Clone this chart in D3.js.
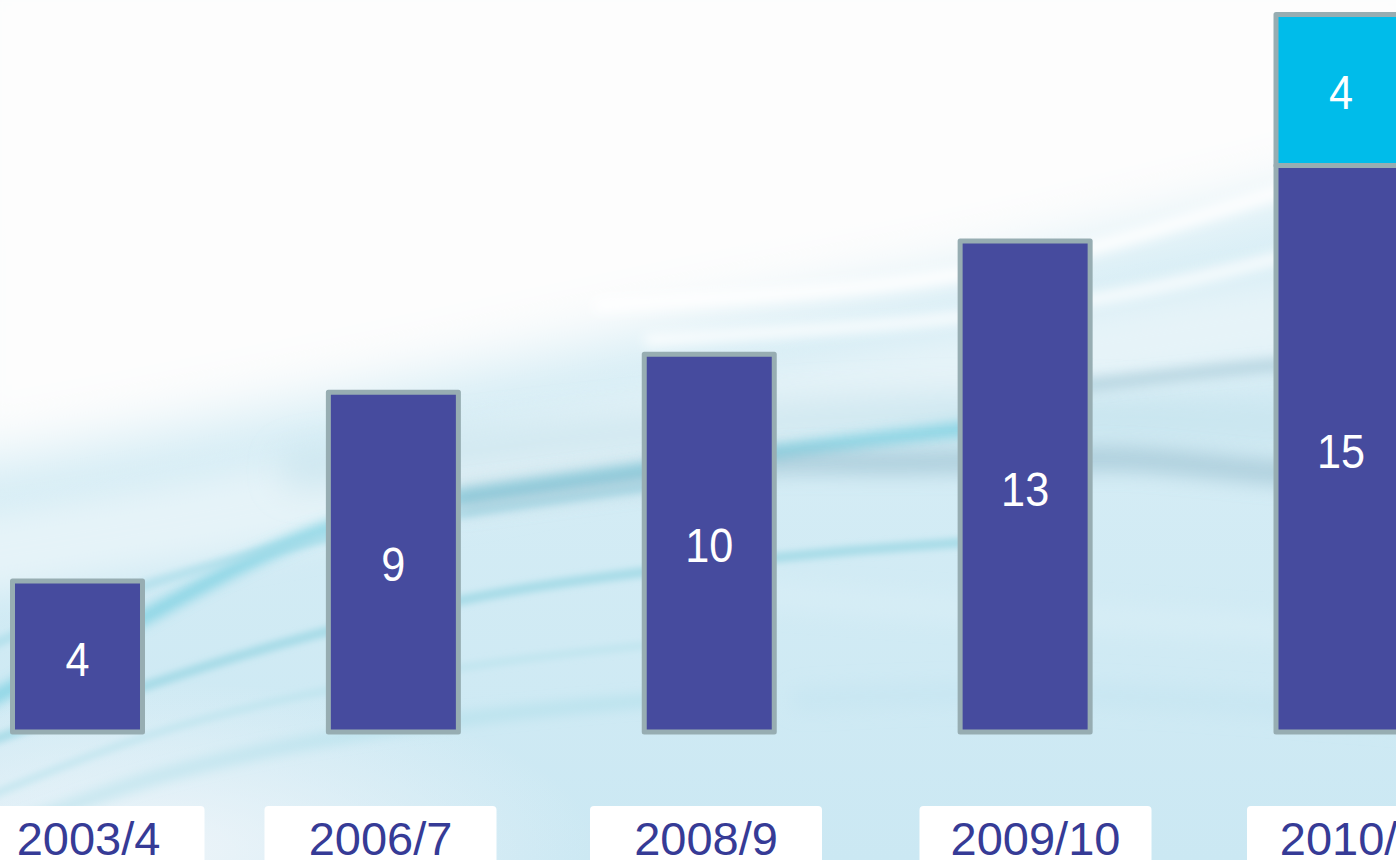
<!DOCTYPE html>
<html lang="en">
<head>
    <meta charset="UTF-8">
    <title>Bars</title>
</head>
<style>
    body { margin: 0; overflow: hidden; background: #fff; }
    text { font-family: "Liberation Sans", Arial, sans-serif; }
</style>
<script src="https://cdn.jsdelivr.net/npm/d3@7"></script>
<body>
    <div id="graphic"></div>
</body>

<script>
    // chart data
    var years = ["2003/4", "2006/7", "2008/9", "2009/10", "2010/11"];
    var baseValues = [4, 9, 10, 13, 15];
    var extraValues = [0, 0, 0, 0, 4];

    var width = 1396;
    var height = 860;

    var table = years.map(function(y, i) {
        return { year: y, base: baseValues[i], extra: extraValues[i] };
    });

    var stack = d3.stack().keys(["base", "extra"]);
    var series = stack(table);

    var xScale = d3.scalePoint()
                    .domain(years)
                    .range([77.5, 1341]);

    var yScale = d3.scaleLinear()
                    .domain([0, d3.max(table, function(d) { return d.base + d.extra; })])
                    .range([732, 14.5]);

    // the year boxes sit a little off the bar centres
    var labelX = d3.scaleOrdinal()
                    .domain(years)
                    .range([88.5, 380.5, 706, 1035.5, 1363]);

    var colors = { base: "#464b9e", extra: "#00bcea" };

    var svg = d3.select('#graphic')
                .append('svg')
                .attr('width', width)
                .attr('height', height);

    var defs = svg.append('defs');

    // blur filters in user space so flat paths don't get clipped
    [3, 6, 10, 16, 30].forEach(function(s) {
        defs.append('filter')
            .attr('id', 'blur' + s)
            .attr('filterUnits', 'userSpaceOnUse')
            .attr('x', -200).attr('y', -200)
            .attr('width', 1800).attr('height', 1300)
            .append('feGaussianBlur')
            .attr('stdDeviation', s);
    });

    var bgGrad = defs.append('linearGradient')
                    .attr('id', 'bgGrad')
                    .attr('x1', 0).attr('y1', 0)
                    .attr('x2', 0).attr('y2', 1);
    bgGrad.append('stop').attr('offset', '0%').attr('stop-color', '#dff1f7');
    bgGrad.append('stop').attr('offset', '100%').attr('stop-color', '#cbe8f3');

    var cornerGrad = defs.append('radialGradient')
                    .attr('id', 'cornerGrad');
    cornerGrad.append('stop').attr('offset', '0%').attr('stop-color', '#f2f6fa').attr('stop-opacity', 0.9);
    cornerGrad.append('stop').attr('offset', '100%').attr('stop-color', '#f2f6fa').attr('stop-opacity', 0);

    // background
    var bg = svg.append('g');
    bg.append('rect')
        .attr('width', width)
        .attr('height', height)
        .attr('fill', 'url(#bgGrad)');

    bg.append('ellipse')
        .attr('cx', 140).attr('cy', 850)
        .attr('rx', 460).attr('ry', 170)
        .attr('fill', 'url(#cornerGrad)');

    var line = d3.line().curve(d3.curveBasis);

    var streaks = [
        { pts: [[-60, 560], [200, 520], [450, 470], [700, 420], [950, 380], [1200, 330], [1460, 300]], c: '#e8f4f8', w: 80, o: 0.9, b: 16 },
        { pts: [[300, 470], [560, 440], [760, 420], [1000, 410], [1200, 420], [1460, 430]], c: '#bcdde9', w: 40, o: 0.5, b: 16 },
        { pts: [[-20, 705], [150, 615], [320, 520], [490, 492], [640, 472], [820, 445], [1000, 425]], c: '#5cc6da', w: 14, o: 0.6, b: 6 },
        { pts: [[-20, 650], [120, 590], [300, 540], [480, 510], [700, 480]], c: '#a3dbe7', w: 10, o: 0.6, b: 3 },
        { pts: [[-20, 745], [150, 683], [312, 633], [491, 592], [625, 574], [820, 552], [1000, 540]], c: '#86cfdf', w: 10, o: 0.55, b: 3 },
        { pts: [[-20, 800], [150, 730], [320, 690], [500, 660], [700, 640]], c: '#b9e3ec', w: 8, o: 0.6, b: 3 },
        { pts: [[-20, 840], [147, 775], [312, 740], [500, 712], [720, 695]], c: '#a6dbe7', w: 14, o: 0.45, b: 6 },
        { pts: [[460, 500], [650, 475], [789, 458], [878, 464], [1000, 460], [1144, 456], [1260, 474], [1460, 480]], c: '#89b2c4', w: 22, o: 0.55, b: 10 },
        { pts: [[1000, 395], [1200, 372], [1300, 362], [1460, 356]], c: '#98c0d0', w: 14, o: 0.5, b: 6 },
        { pts: [[600, 305], [900, 288], [1100, 250], [1272, 192], [1460, 140]], c: '#ffffff', w: 14, o: 0.9, b: 6 },
        { pts: [[650, 340], [950, 322], [1150, 292], [1300, 252], [1460, 212]], c: '#ffffff', w: 12, o: 0.8, b: 6 },
        { pts: [[700, 590], [950, 610], [1150, 620], [1460, 640]], c: '#dcf0f7', w: 26, o: 0.5, b: 10 },
        { pts: [[800, 700], [1000, 690], [1200, 700], [1460, 720]], c: '#c2e4ef', w: 20, o: 0.5, b: 10 }
    ];

    // white top region
    bg.append('path')
        .attr('d', 'M-60,-60 L1460,-60 L1460,150 C1250,200 1050,255 850,292 C600,338 300,410 -60,470 Z')
        .attr('fill', '#fdfdfd')
        .attr('filter', 'url(#blur30)');

    bg.selectAll('.streak')
        .data(streaks)
        .join('path')
        .attr('class', 'streak')
        .attr('d', function(d) { return line(d.pts); })
        .attr('fill', 'none')
        .attr('stroke', function(d) { return d.c; })
        .attr('stroke-width', function(d) { return d.w; })
        .attr('stroke-opacity', function(d) { return d.o; })
        .attr('stroke-linecap', 'round')
        .attr('filter', function(d) { return 'url(#blur' + d.b + ')'; });

    // bars
    var barWidth = 130;
    var segments = [];
    series.forEach(function(s) {
        s.forEach(function(p) {
            if (p[1] - p[0] > 0) {
                segments.push({ key: s.key, year: p.data.year, y0: p[0], y1: p[1] });
            }
        });
    });

    svg.selectAll('.bar')
        .data(segments)
        .join('rect')
        .attr('class', 'bar')
        .attr('x', function(d) { return xScale(d.year) - barWidth / 2; })
        .attr('width', barWidth)
        .attr('y', function(d) { return yScale(d.y1); })
        .attr('height', function(d) { return yScale(d.y0) - yScale(d.y1); })
        .attr('fill', function(d) { return colors[d.key]; })
        .attr('stroke', '#97adb2')
        .attr('stroke-width', 5)
        .attr('stroke-linejoin', 'round');

    svg.selectAll('.value')
        .data(segments)
        .join('text')
        .attr('class', 'value')
        .attr('transform', function(d) {
            var cy = (yScale(d.y0) + yScale(d.y1)) / 2;
            return 'translate(' + xScale(d.year) + ',' + cy + ') scale(0.9,1)';
        })
        .attr('dy', '0.4em')
        .attr('text-anchor', 'middle')
        .attr('font-size', 48)
        .attr('fill', '#ffffff')
        .text(function(d) { return d.y1 - d.y0; });

    // year labels
    var labels = svg.selectAll('.year')
                    .data(years)
                    .join('g')
                    .attr('class', 'year')
                    .attr('transform', function(d) { return 'translate(' + labelX(d) + ',0)'; });

    labels.append('rect')
        .attr('x', -116)
        .attr('y', 806)
        .attr('width', 232)
        .attr('height', 70)
        .attr('rx', 4)
        .attr('fill', '#ffffff');

    labels.append('text')
        .attr('x', 0)
        .attr('y', 855)
        .attr('text-anchor', 'middle')
        .attr('font-size', 47)
        .attr('fill', '#363b96')
        .text(function(d) { return d; });
</script>
</html>
